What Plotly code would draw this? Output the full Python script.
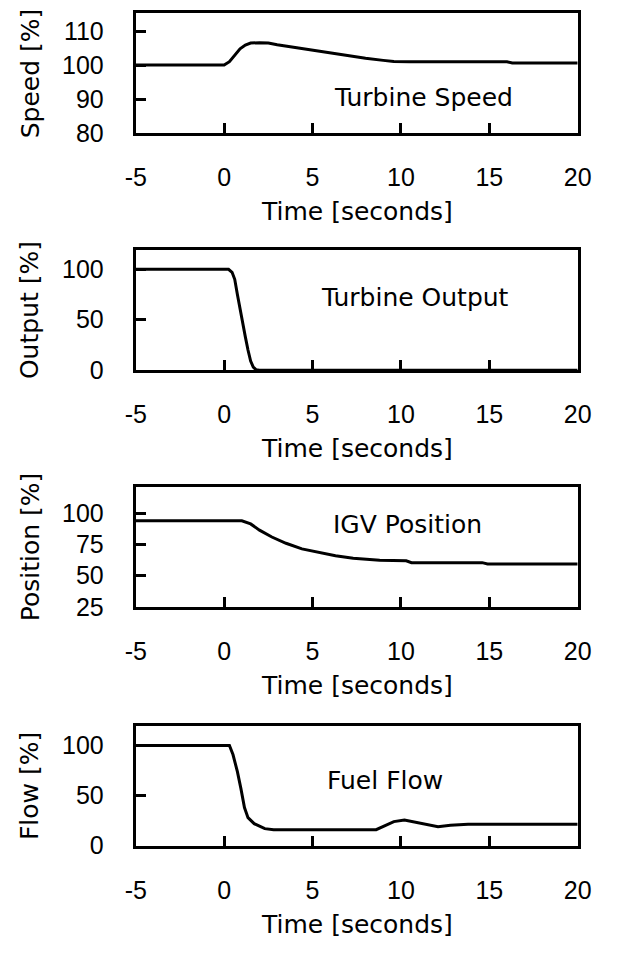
import plotly.graph_objects as go

# Time axis [s] and recorded trip response of each quantity [%]
speed_t = [-5, 0, 0.3, 0.6, 0.9, 1.2, 1.5, 2.0, 2.5, 3.0, 4.0, 5.0, 6.0, 7.0, 8.0, 9.0, 9.6, 10.5, 16.0, 16.3, 20]
speed_v = [100, 100, 101.0, 103.0, 104.8, 105.9, 106.5, 106.6, 106.5, 106.0, 105.2, 104.3, 103.5, 102.7, 102.0, 101.4, 101.1, 101.0, 101.0, 100.6, 100.6]

output_t = [-5, 0.25, 0.45, 0.6, 0.75, 0.9, 1.05, 1.2, 1.35, 1.5, 1.65, 1.8, 2.0, 20]
output_v = [100, 100, 97, 90, 75, 60, 47, 33, 20, 9, 3, 0.5, 0, 0]

igv_t = [-5, 1.0, 1.5, 2.0, 2.7, 3.5, 4.4, 5.2, 6.3, 7.3, 8.8, 10.3, 10.6, 14.6, 14.9, 20]
igv_v = [94, 94, 91.5, 86.5, 81, 76, 71.5, 69, 66, 64, 62.5, 62, 60.5, 60.5, 59.5, 59.5]

fuel_t = [-5, 0.3, 0.5, 0.75, 0.95, 1.15, 1.35, 1.7, 2.3, 2.8, 8.6, 9.6, 10.2, 11.3, 12.1, 12.8, 13.8, 17.0, 20]
fuel_v = [100, 100, 91, 74, 57, 38, 28, 22, 17, 16, 16, 24, 25.5, 21.5, 19, 20.5, 21.5, 21.5, 21.5]

x_ticks = [-5, 0, 5, 10, 15, 20]
x_tick_text = ["-5", "0", "5", "10", "15", "20"]

panels = [
    dict(t=speed_t, v=speed_v, yrange=[80, 115.3], yticks=[80, 90, 100, 110],
         ytitle="Speed [%]", label="Turbine Speed", lx=11.3, ly=90.6,
         dom=[0.8583, 0.9860]),
    dict(t=output_t, v=output_v, yrange=[0, 119.5], yticks=[0, 50, 100],
         ytitle="Output [%]", label="Turbine Output", lx=10.8, ly=72.3,
         dom=[0.6058, 0.7342]),
    dict(t=igv_t, v=igv_v, yrange=[25, 121], yticks=[25, 50, 75, 100],
         ytitle="Position [%]", label="IGV Position", lx=10.4, ly=90.9,
         dom=[0.3536, 0.4813]),
    dict(t=fuel_t, v=fuel_v, yrange=[0, 119.4], yticks=[0, 50, 100],
         ytitle="Flow [%]", label="Fuel Flow", lx=9.1, ly=65.5,
         dom=[0.0994, 0.2267]),
]

NUM_FONT = "Liberation Sans, Arial, sans-serif"
WORD_FONT = "DejaVu Sans, Verdana, sans-serif"
xdom = [0.2100, 0.9540]

fig = go.Figure()
annotations = []
for i, p in enumerate(panels, start=1):
    sfx = "" if i == 1 else str(i)
    fig.add_trace(go.Scatter(
        x=p["t"], y=p["v"], mode="lines",
        line=dict(color="black", width=3),
        xaxis="x" + sfx, yaxis="y" + sfx, showlegend=False,
    ))
    axis_common = dict(showline=True, linecolor="black", linewidth=3, mirror=True,
                       showgrid=False, zeroline=False, ticks="inside",
                       tickcolor="black", tickwidth=3, ticklen=10)
    fig.layout["xaxis" + sfx] = dict(
        axis_common, domain=xdom, range=[-5, 20],
        tickvals=x_ticks, ticktext=x_tick_text,
        anchor="y" + sfx, ticklabelstandoff=20,
        tickfont=dict(family=NUM_FONT, size=25, color="black"),
    )
    fig.layout["yaxis" + sfx] = dict(
        axis_common, domain=p["dom"], range=p["yrange"], tickvals=p["yticks"],
        anchor="x" + sfx, ticklabelstandoff=24,
        tickfont=dict(family=NUM_FONT, size=25, color="black"),
    )
    # panel label inside the plot area
    annotations.append(dict(
        x=p["lx"], y=p["ly"], xref="x" + sfx, yref="y" + sfx, text=p["label"],
        showarrow=False, xanchor="center", yanchor="middle",
        font=dict(family=WORD_FONT, size=25, color="black"),
    ))
    # y-axis title
    annotations.append(dict(
        x=20 / 619, y=sum(p["dom"]) / 2, xref="paper", yref="paper",
        text=p["ytitle"], textangle=-90, showarrow=False,
        xanchor="center", yanchor="middle",
        font=dict(family=WORD_FONT, size=25, color="black"),
    ))
    # x-axis title
    annotations.append(dict(
        x=sum(xdom) / 2, y=p["dom"][0] - 80 / 953, xref="paper", yref="paper",
        text="Time [seconds]", showarrow=False,
        xanchor="center", yanchor="middle",
        font=dict(family=WORD_FONT, size=25, color="black"),
    ))

fig.update_layout(
    width=619, height=953,
    margin=dict(l=0, r=0, t=0, b=0),
    paper_bgcolor="white", plot_bgcolor="white",
    annotations=annotations,
)

fig.write_html("out.html")
